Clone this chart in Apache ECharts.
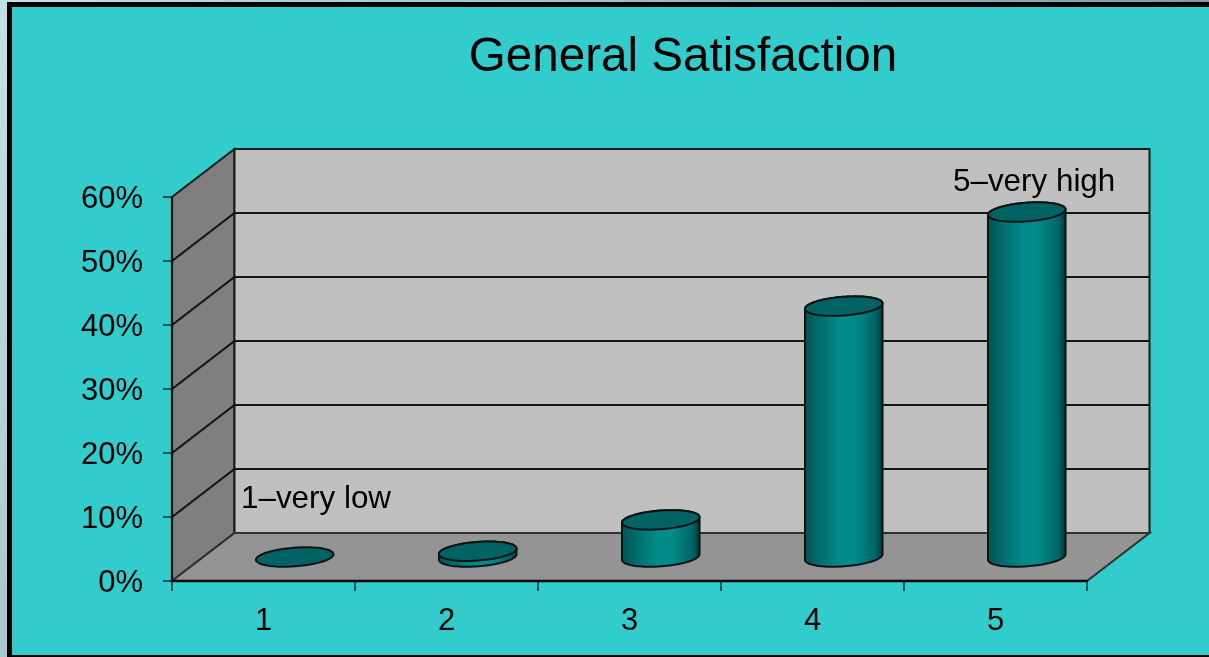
<!DOCTYPE html>
<html>
<head>
<meta charset="utf-8">
<style>
  html, body { margin: 0; padding: 0; background: #bcdfe3; }
  #chart { width: 1209px; height: 657px; }
</style>
<script src="https://cdn.jsdelivr.net/npm/echarts@6/dist/echarts.min.js"></script>
</head>
<body>
<div id="chart"></div>
<script>
// Satisfaction ratings, share of respondents in percent
const categories = ['1', '2', '3', '4', '5'];
const shares = [0, 0.9, 5.8, 39.2, 53.9];
const gridTicks = [0, 10, 20, 30, 40, 50, 60];
const chartTitle = 'General Satisfaction';
const lowNote = '1–very low';
const highNote = '5–very high';

// Pseudo-3D projection: how far the back plane sits from the front plane
const DEPTH_X = 62.5;
const DEPTH_Y = -48;
const FONT = '"Liberation Sans", Arial, sans-serif';

const chart = echarts.init(document.getElementById('chart'), null, { renderer: 'canvas' });

function shifted(p, f) {
  return [p[0] + DEPTH_X * f, p[1] + DEPTH_Y * f];
}

// Side wall, back wall and floor of the box
function renderBox(params, api) {
  const cs = params.coordSys;
  const left = cs.x, right = cs.x + cs.width;
  const y0 = api.coord([0, 0])[1], yMax = api.coord([0, 60])[1];
  const fl = [left, y0], fr = [right, y0], tl = [left, yMax];
  const bl = shifted(fl, 1), br = shifted(fr, 1), tb = shifted(tl, 1), trb = [br[0], tb[1]];
  const edge = { stroke: '#141c1c', lineWidth: 2 };
  return {
    type: 'group',
    children: [
      { type: 'polygon', shape: { points: [fl, tl, tb, bl] },
        style: Object.assign({ fill: '#7f7f7f' }, edge) },
      { type: 'polygon', shape: { points: [bl, tb, trb, br] },
        style: Object.assign({ fill: '#c0c0c0' }, edge) },
      { type: 'polygon', shape: { points: [fl, bl, br, fr] },
        style: { fill: '#949494', stroke: '#303030', lineWidth: 2 } }
    ]
  };
}

// One gridline: runs up the side wall, then across the back wall
function renderGridline(params, api) {
  const cs = params.coordSys;
  const v = api.value(0);
  const y = api.coord([0, v])[1];
  const front = [cs.x, y];
  const back = shifted(front, 1);
  const end = [shifted([cs.x + cs.width, y], 1)[0], back[1]];
  return {
    type: 'polyline',
    shape: { points: [front, back, end] },
    style: { fill: null, stroke: '#121616', lineWidth: 2.2 }
  };
}

// Points of a slightly tilted ellipse between two parameter angles
function ellipseArc(c, a, b, tilt, from, to, steps) {
  const pts = [];
  for (let i = 0; i <= steps; i++) {
    const t = from + (to - from) * i / steps;
    const ex = a * Math.cos(t), ey = b * Math.sin(t);
    pts.push([
      c[0] + ex * Math.cos(tilt) + ey * Math.sin(tilt),
      c[1] - ex * Math.sin(tilt) + ey * Math.cos(tilt)
    ]);
  }
  return pts;
}

// Cylinder standing half way back on the floor
function renderCylinder(params, api) {
  const idx = api.value(0), val = api.value(1);
  const bandWidth = api.size([1, 0])[0];
  const base = shifted(api.coord([idx, 0]), 0.5);
  const top = shifted(api.coord([idx, val]), 0.5);
  const a = bandWidth * 0.2125;
  const b = a * 0.24;
  const tilt = 0.075;
  const lower = ellipseArc(base, a, b, tilt, Math.PI, 0, 48);
  const upper = ellipseArc(top, a, b, tilt, 0, -Math.PI, 48);
  const stroke = { stroke: '#0a1414', lineWidth: 2 };
  const children = [];
  if (val > 0) {
    children.push({
      type: 'polygon',
      shape: { points: lower.concat(upper) },
      style: Object.assign({
        fill: {
          type: 'linear', x: 0, y: 0, x2: 1, y2: 0,
          colorStops: [
            { offset: 0, color: '#005353' },
            { offset: 0.18, color: '#006a6a' },
            { offset: 0.45, color: '#008a8a' },
            { offset: 0.64, color: '#008a8a' },
            { offset: 0.9, color: '#006464' },
            { offset: 1, color: '#003232' }
          ]
        }
      }, stroke)
    });
  }
  children.push({
    type: 'polygon',
    shape: { points: ellipseArc(top, a, b, tilt, 0, Math.PI * 2, 96) },
    style: Object.assign({ fill: '#006262' }, stroke)
  });
  return { type: 'group', children };
}

chart.setOption({
  animation: false,
  backgroundColor: 'transparent',
  title: {
    text: chartTitle,
    left: 678, top: 29, textAlign: 'center',
    textStyle: { fontFamily: FONT, fontSize: 47.6, fontWeight: 'normal', color: '#000' }
  },
  graphic: [
    // Pale slide edge showing outside the black frame
    { type: 'rect', z: -20, silent: true,
      shape: { x: 0, y: 0, width: 8, height: 657 },
      style: { fill: { type: 'linear', x: 0, y: 0, x2: 0, y2: 1,
        colorStops: [{ offset: 0, color: '#c0e2e6' }, { offset: 1, color: '#a9c8cc' }] } } },
    { type: 'rect', z: -20, silent: true,
      shape: { x: 0, y: 0, width: 1209, height: 3 },
      style: { fill: { type: 'linear', x: 0, y: 0, x2: 1, y2: 0,
        colorStops: [{ offset: 0, color: '#c0e2e6' }, { offset: 1, color: '#8a9a9c' }] } } },
    { type: 'rect', z: -10, silent: true,
      shape: { x: 9.5, y: 4.5, width: 1300, height: 653 },
      style: { fill: '#33cccc', stroke: '#000', lineWidth: 5 } },
    { type: 'text', z: 50, silent: true, x: 241, y: 484,
      style: { text: lowNote, font: '31.4px ' + FONT, fill: '#000' } },
    { type: 'text', z: 50, silent: true, x: 953, y: 167,
      style: { text: highNote, font: '31.4px ' + FONT, fill: '#000' } }
  ],
  grid: { left: 172, top: 197, width: 915, height: 384, containLabel: false },
  xAxis: {
    type: 'category',
    z: 5,
    data: categories,
    boundaryGap: true,
    axisLine: { show: true, lineStyle: { color: '#060c0c', width: 2.4 } },
    axisTick: { show: true, alignWithLabel: false, length: 10, lineStyle: { color: '#162e2e', width: 1.5 } },
    axisLabel: { margin: 25, fontSize: 31, fontFamily: FONT, color: '#000' },
    splitLine: { show: false }
  },
  yAxis: {
    type: 'value',
    z: 5,
    min: 0, max: 60, interval: 10,
    axisLine: { show: true, lineStyle: { color: '#060c0c', width: 2.2 } },
    axisTick: { show: true, length: 9, lineStyle: { color: '#162e2e', width: 1.5 } },
    axisLabel: {
      margin: 29,
      formatter: '{pct|{value}%}',
      rich: { pct: { fontSize: 31, fontFamily: FONT, color: '#000', padding: [4, 0, 0, 0] } }
    },
    splitLine: { show: false }
  },
  series: [
    { type: 'custom', z: 1, silent: true, clip: false, renderItem: renderBox, data: [0] },
    { type: 'custom', z: 2, silent: true, clip: false, renderItem: renderGridline,
      encode: { y: 0 },
      data: gridTicks.filter(function (t) { return t > 0 && t < 60; }) },
    { type: 'custom', z: 3, silent: true, clip: false, renderItem: renderCylinder,
      encode: { x: 0, y: 1 },
      data: shares.map(function (v, i) { return [i, v]; }) }
  ]
});
</script>
</body>
</html>
